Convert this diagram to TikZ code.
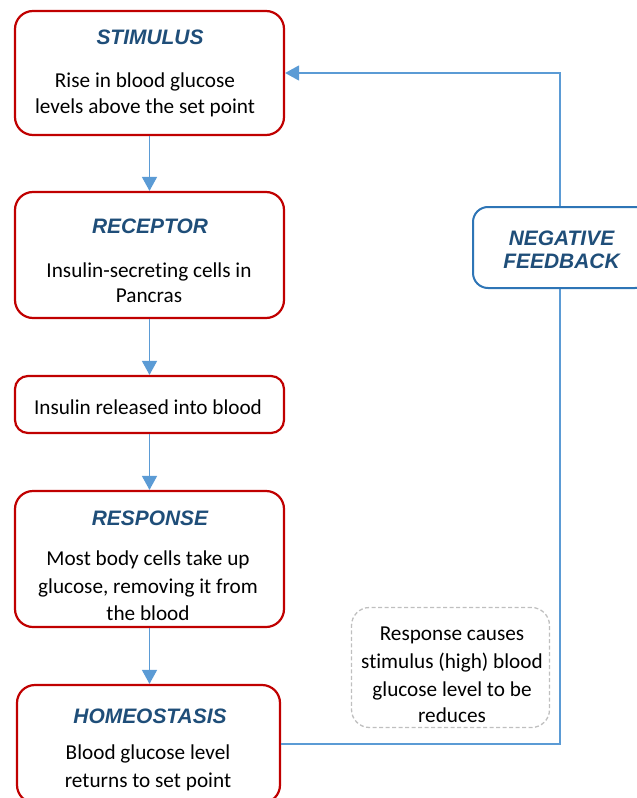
\documentclass[tikz,border=0pt]{standalone}
\usepackage{fontspec}
\setmainfont[Ligatures=NoCommon]{Carlito}
\newfontfamily\ttlfont{Liberation Sans}
\usetikzlibrary{arrows.meta}
\definecolor{boxred}{HTML}{C00000}
\definecolor{ttlblue}{HTML}{1F4E79}
\definecolor{lineblue}{HTML}{5B9BD5}
\definecolor{nfblue}{HTML}{2E75B6}
\definecolor{dashgrey}{HTML}{BFBFBF}
\begin{document}
\begin{tikzpicture}[x=1bp,y=-1bp,
  redbox/.style={draw=boxred, line width=2.2bp, rounded corners=18bp, minimum width=269bp, inner sep=0pt, fill=white},
  nfbox/.style={draw=nfblue, line width=2bp, rounded corners=15bp, minimum width=177bp, minimum height=81bp, inner sep=0pt, fill=white},
  notebox/.style={draw=dashgrey, line width=1.3bp, dash pattern=on 4bp off 2.5bp, rounded corners=18bp, minimum width=198bp, minimum height=120bp, inner sep=0pt},
  ttl/.style={font=\ttlfont\bfseries\itshape\fontsize{21}{25}\selectfont, text=ttlblue, anchor=base, inner sep=0pt},
  body/.style={font=\fontsize{21.3}{27}\selectfont, text=black, anchor=base, inner sep=0pt},
  flow/.style={draw=lineblue, line width=1.5bp, -{Triangle[length=14bp,width=15bp]}},
]
\useasboundingbox (0,0) rectangle (637,798);

% boxes
\node[redbox, minimum height=124bp] (b1) at (149.5,73) {};
\node[redbox, minimum height=126bp] (b2) at (149.5,255) {};
\node[redbox, minimum height=57bp, rounded corners=13bp] (b3) at (149.5,404.5) {};
\node[redbox, minimum height=136bp] (b4) at (149.5,559) {};
\node[redbox, minimum width=263bp, minimum height=118bp] (b5) at (148.5,744) {};

% texts
\node[ttl] (t1) at (150,45) {STIMULUS};
\node[body] (t1a) at (145,87) {Rise in blood glucose};
\node[body] (t1b) at (145,113) {levels above the set point};

\node[ttl] (t2) at (150,233) {RECEPTOR};
\node[body] (t2a) at (149,277) {Insulin-secreting cells in};
\node[body] (t2b) at (149,302) {Pancras};

\node[body] (t3a) at (148,414) {Insulin released into blood};

\node[ttl] (t4) at (150,525) {RESPONSE};
\node[body] (t4a) at (148,565) {Most body cells take up};
\node[body] (t4b) at (148,593) {glucose, removing it from};
\node[body] (t4c) at (148,620) {the blood};

\node[ttl] (t5) at (150,723) {HOMEOSTASIS};
\node[body] (t5a) at (148,759) {Blood glucose level};
\node[body] (t5b) at (148,787) {returns to set point};

% vertical arrows
\draw[flow] (b1) -- (b2);
\draw[flow] (b2) -- (b3);
\draw[flow] (b3) -- (b4);
\draw[flow] (b4.south) -- (b4.south |- b5.north);

% feedback loop
\coordinate (fbT) at (560,73);
\draw[flow] (b5.east) -| (fbT) -- (b1.east);

\node[nfbox] (nf) at (561.5,247.5) {};
\node[ttl] (nft1) at (561.5,245) {NEGATIVE};
\node[ttl] (nft2) at (561.5,268) {FEEDBACK};

% note
\node[notebox] (note) at (450.5,667.5) {};
\node[body] (n1) at (452,640) {Response causes};
\node[body] (n2) at (452,668) {stimulus (high) blood};
\node[body] (n3) at (452,696) {glucose level to be};
\node[body] (n4) at (452,722) {reduces};
\end{tikzpicture}
\end{document}
